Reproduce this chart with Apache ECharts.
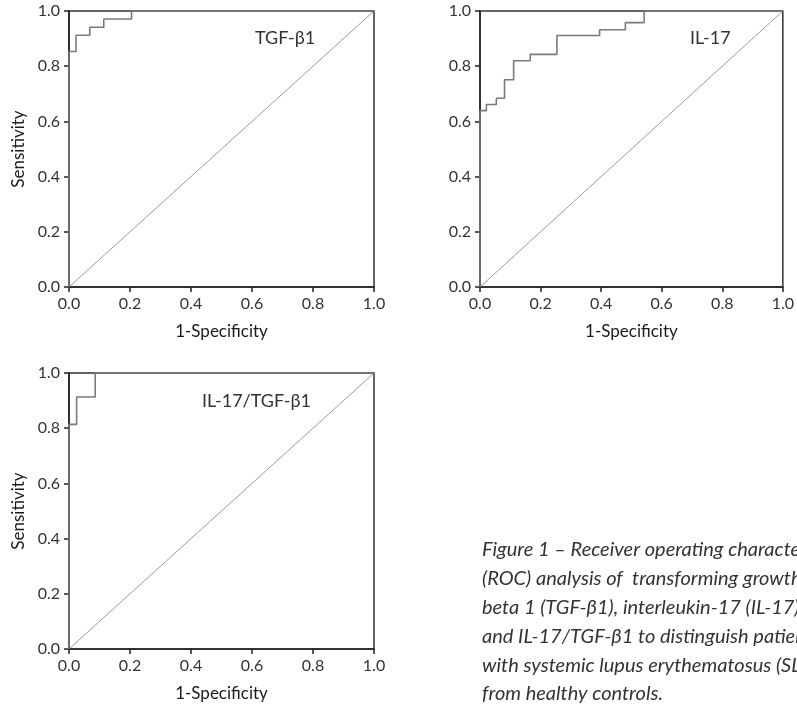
<!DOCTYPE html>
<html>
<head>
<meta charset="utf-8">
<script src="https://cdn.jsdelivr.net/npm/echarts@6/dist/echarts.min.js"></script>
<style>
  html, body { margin: 0; padding: 0; background: #fff; }
  #main { width: 797px; height: 709px; }
</style>
</head>
<body>
<div id="main"></div>
<script>
// ROC points (1-specificity, sensitivity)
const tgfFpr = [0, 0, 0.023, 0.068, 0.114, 0.205, 1];
const tgfTpr = [0, 0.853, 0.912, 0.941, 0.971, 1, 1];

const il17Fpr = [0, 0, 0.021, 0.054, 0.081, 0.111, 0.166, 0.254, 0.395, 0.480, 0.542, 1];
const il17Tpr = [0, 0.639, 0.661, 0.684, 0.751, 0.820, 0.843, 0.911, 0.932, 0.958, 1, 1];

const ratioFpr = [0, 0, 0.025, 0.086, 1];
const ratioTpr = [0, 0.814, 0.913, 1, 1];

const refLine = [[0, 0], [1, 1]];

const panelNames = ['TGF-β1', 'IL-17', 'IL-17/TGF-β1'];
const xTitle = '1-Specificity';
const yTitle = 'Sensitivity';

const captionLines = [
  'Figure 1 – Receiver operating characteristic',
  '(ROC) analysis of  transforming growth factor',
  'beta 1 (TGF-β1), interleukin-17 (IL-17)',
  'and IL-17/TGF-β1 to distinguish patients',
  'with systemic lupus erythematosus (SLE)',
  'from healthy controls.'
];

const FONT = 'Lato, "Open Sans", sans-serif';
const zip = (xs, ys) => xs.map((x, i) => [x, ys[i]]);

const grids = [
  { left: 69, top: 11, width: 305, height: 276 },
  { left: 480, top: 11, width: 305, height: 276 },
  { left: 69, top: 373, width: 305, height: 276 }
];

const axisCommon = {
  type: 'value',
  min: 0,
  max: 1,
  interval: 0.2,
  splitLine: { show: false },
  axisLine: { show: true, lineStyle: { color: '#222', width: 1.5 } },
  axisTick: { show: true, length: 5, lineStyle: { color: '#222', width: 1.5 } },
  axisLabel: {
    color: '#333',
    fontSize: 16,
    fontFamily: FONT,
    formatter: v => v.toFixed(1)
  }
};

const nameStyle = { color: '#1a1a1a', fontSize: 17, fontFamily: FONT };

const xAxes = grids.map((g, i) => Object.assign({}, axisCommon, {
  gridIndex: i,
  name: xTitle,
  nameLocation: 'middle',
  nameGap: 36,
  nameTextStyle: nameStyle,
  axisLabel: Object.assign({}, axisCommon.axisLabel, { margin: 9 })
}));

const yAxes = grids.map((g, i) => Object.assign({}, axisCommon, {
  gridIndex: i,
  name: i === 1 ? '' : yTitle,
  nameLocation: 'middle',
  nameGap: 42,
  nameTextStyle: nameStyle,
  axisLabel: Object.assign({}, axisCommon.axisLabel, { margin: 9 })
}));

const curves = [zip(tgfFpr, tgfTpr), zip(il17Fpr, il17Tpr), zip(ratioFpr, ratioTpr)];

const series = [];
curves.forEach((data, i) => {
  series.push({
    type: 'line',
    xAxisIndex: i,
    yAxisIndex: i,
    data: refLine,
    symbol: 'none',
    silent: true,
    lineStyle: { color: '#9a9a9a', width: 1 }
  });
  series.push({
    type: 'line',
    xAxisIndex: i,
    yAxisIndex: i,
    data: data,
    step: 'end',
    symbol: 'none',
    silent: true,
    lineStyle: { color: '#7a7a7a', width: 1.6 }
  });
});

const labelPos = [[255, 38], [690, 38], [202, 401]];
const graphic = panelNames.map((name, i) => ({
  type: 'text',
  x: labelPos[i][0],
  y: labelPos[i][1],
  style: {
    text: name,
    fill: '#333',
    font: '18px ' + FONT,
    textVerticalAlign: 'middle'
  }
}));

const captionTop = 550;
const captionStep = 28.8;
captionLines.forEach((line, i) => {
  graphic.push({
    type: 'text',
    x: 482,
    y: captionTop + i * captionStep,
    style: {
      text: line,
      fill: '#333',
      font: 'italic 20px ' + FONT,
      textVerticalAlign: 'middle'
    }
  });
});

const chart = echarts.init(document.getElementById('main'));
chart.setOption({
  animation: false,
  backgroundColor: '#fff',
  grid: grids.map(g => Object.assign({ show: true, borderColor: '#333', borderWidth: 1.5, backgroundColor: 'transparent' }, g)),
  xAxis: xAxes,
  yAxis: yAxes,
  series: series,
  graphic: graphic
});
</script>
</body>
</html>
